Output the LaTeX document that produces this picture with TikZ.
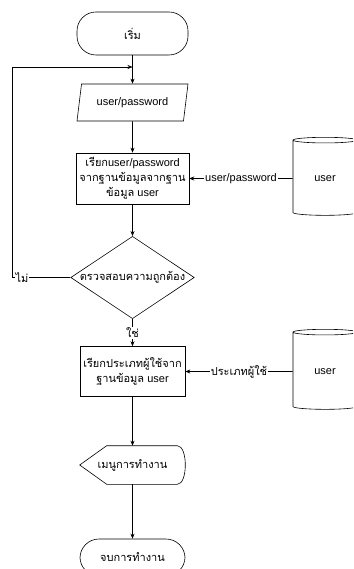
\documentclass[tikz,border=0pt]{standalone}
\usepackage{fontspec}
\setmainfont{Liberation Sans}
\newfontfamily\thai[Script=Thai]{Loma}
\usetikzlibrary{arrows.meta,shapes.geometric}

\begin{document}
\begin{tikzpicture}[x=1pt, y=-1pt, line width=0.6pt, >={Stealth[length=5pt,width=4pt]},
  every node/.style={font=\fontsize{11}{15}\selectfont},
  term node/.style={draw, rectangle, rounded corners=19pt, minimum width=108pt, minimum height=40pt},
  io node/.style={draw, trapezium, trapezium left angle=75, trapezium right angle=105, trapezium stretches body, minimum width=111pt, minimum height=37pt},
  proc node/.style={draw, rectangle, align=center, minimum width=111pt, minimum height=51pt},
  test node/.style={draw, diamond, aspect=1.5, inner sep=0pt, minimum width=121pt, minimum height=81pt},
  db node/.style={draw, cylinder, shape border rotate=90, aspect=0.2, minimum width=64pt, minimum height=78pt},
  tag/.style={fill=white, inner sep=1pt}]
\useasboundingbox (0,0) rectangle (353,569);
\clip (0,0) rectangle (353,569);

\node [term node, minimum width=111pt, minimum height=43pt](start) at (132.5,33.5) {\thai เริ่ม};
\coordinate (join) at (132.5,67);
\node [io node](login) at (132.5,102.5) {user/password};
\node [proc node](fetch) at (132.5,178.5) {{\thai เรียก}user/password\\{\thai จากฐานข้อมูลจากฐาน}\\{\thai ข้อมูล} user};
\node [db node](db1) at (325,178.5) {user};
\node [test node](check) at (132.5,277.5) {\thai ตรวจสอบความถูกต้อง};
\node [proc node, minimum width=105pt, minimum height=50pt](role) at (132.5,371.5) {{\thai เรียกประเภทผู้ใช้จาก}\\{\thai ฐานข้อมูล} user};
\node [db node, minimum height=80pt](db2) at (325,371.5) {user};
\node [minimum width=105pt, minimum height=38pt](menu) at (132.5,465) {\thai เมนูการทำงาน};
\node [term node, minimum width=105pt, minimum height=37pt](stop) at (132.5,557.5) {\thai จบการทำงาน};

% display shape for the menu
\draw (menu.west) -- ([xshift=27pt]menu.north west) -- ([xshift=-8pt]menu.north east)
  .. controls ([xshift=2.67pt]menu.north east) and ([xshift=2.67pt]menu.south east) .. ([xshift=-8pt]menu.south east)
  -- ([xshift=27pt]menu.south west) -- cycle;

\coordinate (back) at (12,67);
\path[->]
    (start) edge (login)
    (login) edge (fetch)
    (db1) edge node[tag]{user/password} (fetch)
    (fetch) edge (check)
    (check) edge node[tag]{\thai ใช่} (role)
    (db2) edge node[tag]{\thai ประเภทผู้ใช้} (role)
    (role) edge (menu.north)
    (menu.south) edge (stop)
         ;
\draw[->] (check.west) -- node[tag, pos=0.83]{\thai ไม่} (check.west -| back) -- (back) -- (join);
\end{tikzpicture}
\end{document}
